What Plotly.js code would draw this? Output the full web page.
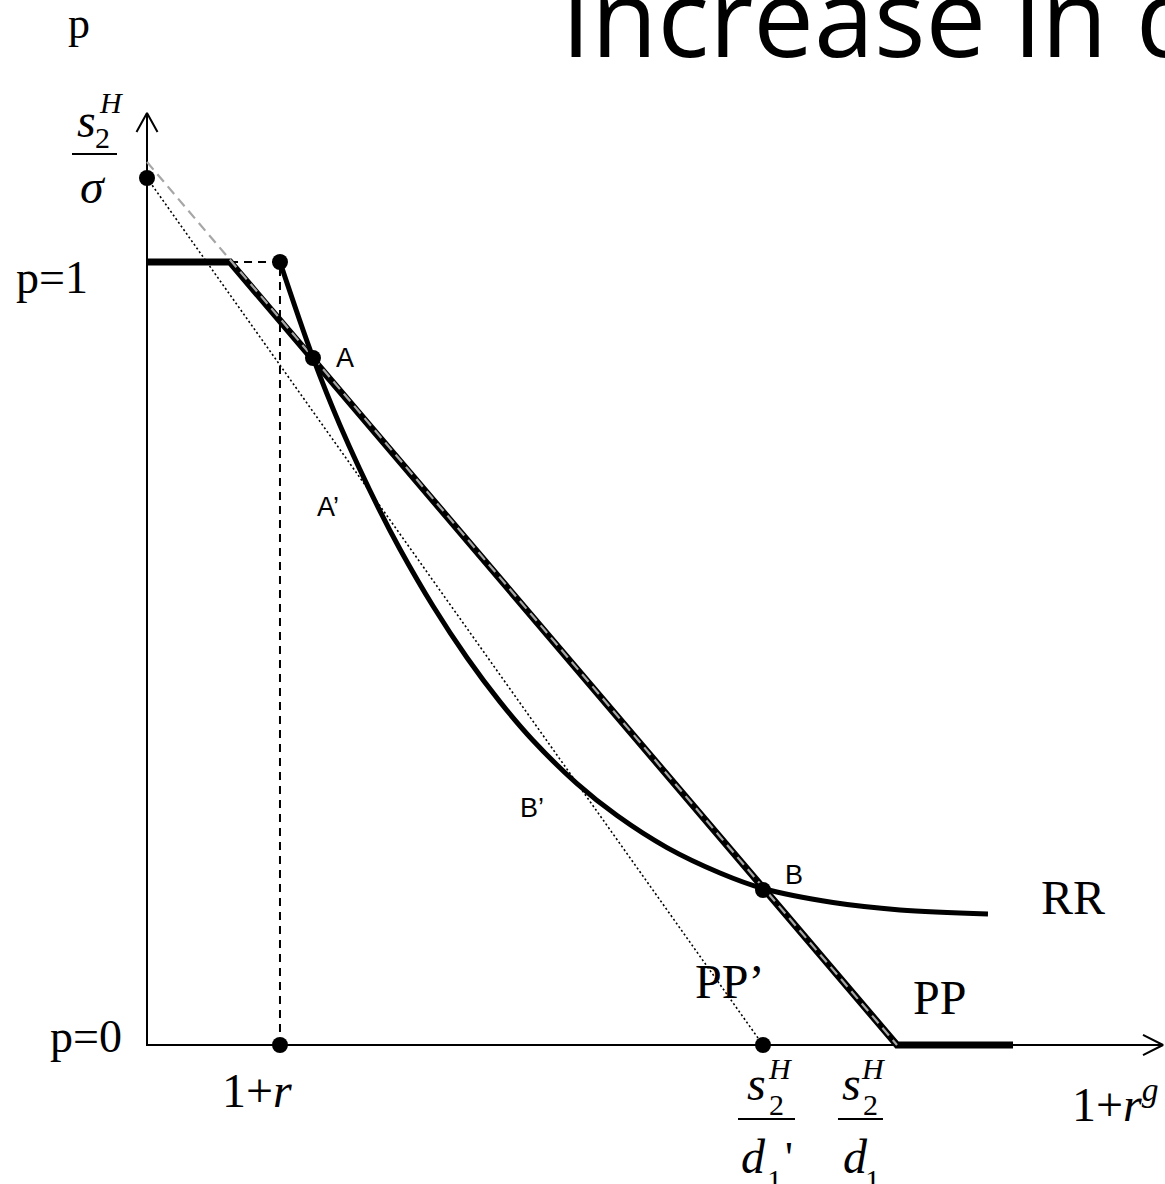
<!DOCTYPE html>
<html>
<head>
<meta charset="utf-8">
<script src="https://cdn.plot.ly/plotly-3.0.1.min.js"></script>
<style>
  html, body { margin: 0; padding: 0; background: #ffffff; }
  #chart { width: 1165px; height: 1184px; }
</style>
</head>
<body>
<div id="chart"></div>
<script>
// ---- Diagram values (x: 1+r^g scale, s2H/d1 = 1 ; y: p, 0..1) ----
const xOnePlusR   = 0.1773;   // 1+r
const xS2d1Prime  = 0.8213;   // s2H/d1'
const xS2d1       = 1.0;      // s2H/d1
const xKink       = 0.1107;   // PP kink at p=1
const xFlatEnd    = 1.1547;   // end of PP flat segment at p=0
const yS2Sigma    = 1.1073;   // s2H/sigma (dot on vertical axis)
const yPPIntercept= 1.1277;   // PP extended to vertical axis
const axisYTop    = 1.1903;
const axisXEnd    = 1.3547;

// RR curve
const rrX = [0.1773, 0.2213, 0.2573, 0.3107, 0.3373, 0.3813, 0.4267, 0.4707, 0.5147, 0.5733, 0.6267, 0.6933, 0.7640, 0.8213, 0.9147, 1.0040, 1.1213];
const rrY = [1.0000, 0.8778, 0.7916, 0.6817, 0.6332, 0.5607, 0.4946, 0.4382, 0.3889, 0.3338, 0.2930, 0.2521, 0.2197, 0.1999, 0.1820, 0.1725, 0.1674];

// PP (solid, thick)
const ppX = [0, xKink, xS2d1, xFlatEnd];
const ppY = [1, 1, 0, 0];
// PP extended (grey dashed)
const ppExtX = [0, xS2d1];
const ppExtY = [yPPIntercept, 0];
// PP' (dotted)
const ppPrimeX = [0, xS2d1Prime];
const ppPrimeY = [yS2Sigma, 0];
// guide lines (thin dashed)
const guideX = [xKink, xOnePlusR, xOnePlusR];
const guideY = [1, 1, 0];
// dots: s2H/sigma, RR start, A, B, 1+r, s2H/d1'
const dotsX = [0, xOnePlusR, 0.2213, xS2d1Prime, xOnePlusR, xS2d1Prime];
const dotsY = [yS2Sigma, 1, 0.8774, 0.198, 0, 0];
// axes
const axisX = [0, 0, axisXEnd];
const axisY = [axisYTop, 0, 0];
const arrowYX = [-0.014, 0, 0.014];
const arrowYY = [axisYTop - 0.0243, axisYTop, axisYTop - 0.0243];
const arrowXX = [axisXEnd - 0.0267, axisXEnd, axisXEnd - 0.0267];
const arrowXY = [0.0128, 0, -0.0128];

const serif = 'Liberation Serif, Times New Roman, serif';
const sans = 'Liberation Sans, Arial, sans-serif';

function line(x, y, width, color, dash, shape) {
  const ln = { width: width, color: color, dash: dash || 'solid' };
  if (shape) { ln.shape = shape; ln.smoothing = 1; }
  return { type: 'scatter', mode: 'lines', x: x, y: y, hoverinfo: 'skip', line: ln };
}

const traces = [
  line(axisX, axisY, 2, '#000'),
  line(arrowYX, arrowYY, 2, '#000'),
  line(arrowXX, arrowXY, 2, '#000'),
  line(guideX, guideY, 2, '#000', '8px,6px'),
  line(ppPrimeX, ppPrimeY, 1.6, '#000', '2px,2.5px'),
  line(ppX, ppY, 7, '#000'),
  line(ppExtX, ppExtY, 2.2, '#a6a6a6', '10px,6px'),
  line(rrX, rrY, 5, '#000', 'solid', 'spline'),
  { type: 'scatter', mode: 'markers', x: dotsX, y: dotsY, hoverinfo: 'skip',
    marker: { size: 16, color: '#000' } }
];

function ann(text, x, y, size, family, opts) {
  return Object.assign({
    text: text, x: x, y: y, xref: 'x', yref: 'y', showarrow: false,
    xanchor: 'center', yanchor: 'middle',
    font: { family: family, size: size, color: '#000' }
  }, opts || {});
}

const annotations = [
  ann('Increase in d', 0.5493, 1.3142, 108, 'Open Sans', { xanchor: 'left' }),
  ann('p', -0.0907, 1.305, 44, serif),
  ann('p=1', -0.1267, 0.980, 46, serif),
  ann('p=0', -0.0807, 0.0109, 46, serif),
  ann('1+<i>r</i>', 0.146, -0.0587, 48, serif),
  ann('1+<i>r</i><sup><i>g</i></sup>', 1.2907, -0.0715, 48, serif),
  ann('RR', 1.2353, 0.189, 48, serif),
  ann('PP', 1.0573, 0.0613, 48, serif),
  ann('PP’', 0.776, 0.0817, 48, serif),
  ann('A', 0.264, 0.8774, 27, sans),
  ann('A’', 0.2413, 0.6871, 27, sans),
  ann('B', 0.8627, 0.2171, 27, sans),
  ann('B’', 0.5133, 0.3027, 27, sans),
  // left fraction s2H / sigma
  ann('<i>s</i>', -0.0813, 1.1801, 48, serif),
  ann('<i>H</i>', -0.0467, 1.2043, 30, serif),
  ann('2', -0.0587, 1.1584, 30, serif),
  ann('<i>σ</i>', -0.072, 1.097, 48, serif),
  // bottom fraction s2H / d1'
  ann('<i>s</i>', 0.812, -0.0498, 48, serif),
  ann('<i>H</i>', 0.8453, -0.0294, 30, serif),
  ann('2', 0.8387, -0.0766, 30, serif),
  ann('<i>d</i>', 0.8093, -0.1418, 48, serif),
  ann('1', 0.8373, -0.1724, 30, serif),
  ann("'", 0.856, -0.1437, 44, serif),
  // bottom fraction s2H / d1
  ann('<i>s</i>', 0.9387, -0.0498, 48, serif),
  ann('<i>H</i>', 0.9693, -0.0294, 30, serif),
  ann('2', 0.964, -0.0766, 30, serif),
  ann('<i>d</i>', 0.944, -0.1418, 48, serif),
  ann('1', 0.9667, -0.1724, 30, serif)
];

const shapes = [
  { type: 'line', xref: 'x', yref: 'y', x0: -0.1, x1: -0.04, y0: 1.1379, y1: 1.1379, line: { color: '#000', width: 2 } },
  { type: 'line', xref: 'x', yref: 'y', x0: 0.788, x1: 0.864, y0: -0.0945, y1: -0.0945, line: { color: '#000', width: 2 } },
  { type: 'line', xref: 'x', yref: 'y', x0: 0.9213, x1: 0.9813, y0: -0.0945, y1: -0.0945, line: { color: '#000', width: 2 } }
];

const layout = {
  width: 1165, height: 1184,
  margin: { l: 0, r: 0, t: 0, b: 0, pad: 0 },
  paper_bgcolor: '#ffffff', plot_bgcolor: '#ffffff',
  showlegend: false,
  xaxis: { range: [-0.196, 1.357333], visible: false, fixedrange: true },
  yaxis: { range: [-0.177522, 1.334610], visible: false, fixedrange: true },
  annotations: annotations,
  shapes: shapes
};

Plotly.newPlot('chart', traces, layout, { displayModeBar: false, staticPlot: true });
</script>
</body>
</html>
